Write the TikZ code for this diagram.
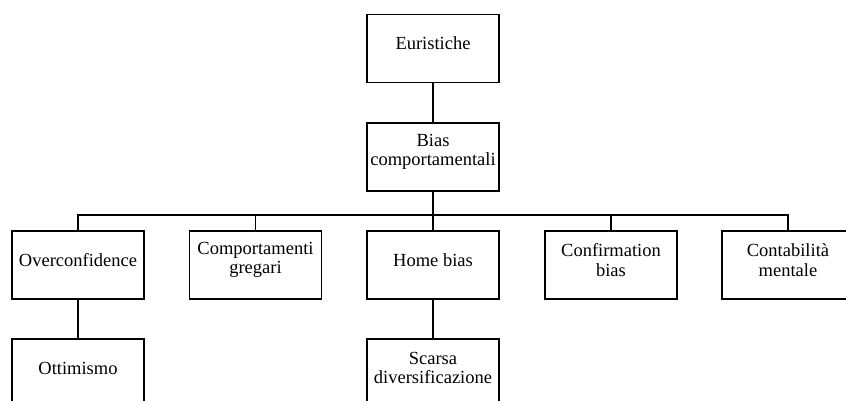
\documentclass[tikz,border=0pt]{standalone}
\usepackage{fontspec}
\setmainfont{Liberation Serif}
\begin{document}
\begin{tikzpicture}[x=1pt,y=-1pt,
  box/.style={draw=black, line width=1.8pt, minimum width=132pt, minimum height=68pt, inner sep=0pt},
  txt/.style={align=center, font=\fontsize{18.5}{19.5}\selectfont, inner sep=0pt},
  link/.style={draw=black, line width=1.8pt}]
  \clip (0,0) rectangle (846,400);
  \useasboundingbox (0,0) rectangle (846,400);

  % top chain
  \node[box] (eur) at (433,48.5) {};
  \node[txt] (eur-t) at ([yshift=5pt]eur.center) {Euristiche};
  \node[box] (bias) at (433,157) {};
  \node[txt] (bias-t) at ([yshift=5pt]bias.center) {Bias\\comportamentali};

  % first row of biases
  \node[box] (over) at (78,265) {};
  \node[txt] (over-t) at ([yshift=5pt]over.center) {Overconfidence};
  \node[box] (greg) at (255.5,265) {};
  \node[txt] (greg-t) at ([yshift=5pt]greg.center) {Comportamenti\\gregari};
  \node[box] (home) at (433,265) {};
  \node[txt] (home-t) at ([yshift=5pt]home.center) {Home bias};
  \node[box] (conf) at (611,265) {};
  \node[txt] (conf-t) at ([yshift=5pt]conf.center) {Confirmation\\bias};
  \node[box] (cont) at (788,265) {};
  \node[txt] (cont-t) at ([yshift=5pt]cont.center) {Contabilità\\mentale};

  % consequences
  \node[box] (ott) at (78,373) {};
  \node[txt] (ott-t) at ([yshift=5pt]ott.center) {Ottimismo};
  \node[box] (scar) at (433,373) {};
  \node[txt] (scar-t) at ([yshift=5pt]scar.center) {Scarsa\\diversificazione};

  % connectors
  \coordinate (bus) at (0,215);
  \draw[link] (eur.south) -- (bias.north);
  \draw[link] (bias.south) -- (bias.south |- bus);
  \draw[link] (over.north) -- (over.north |- bus) -- (cont.north |- bus) -- (cont.north);
  \foreach \n in {greg,home,conf}
    \draw[link] (\n.north) -- (\n.north |- bus);
  \draw[link] (over.south) -- (ott.north);
  \draw[link] (home.south) -- (scar.north);
\end{tikzpicture}
\end{document}
